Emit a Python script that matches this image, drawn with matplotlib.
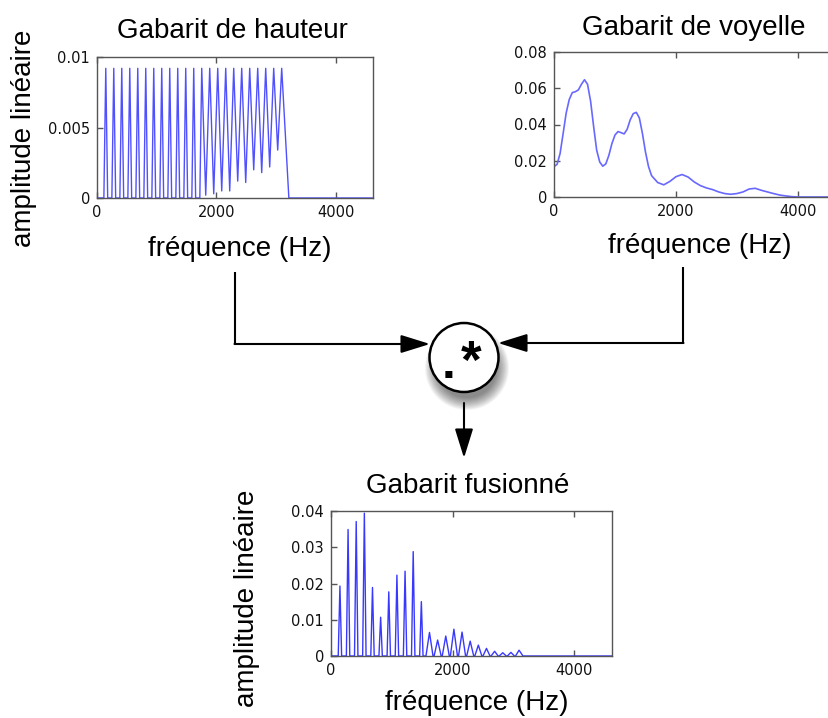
import matplotlib.pyplot as plt
from matplotlib.patches import Circle

W, H = 829, 718

# harmonic positions (Hz)
harm_freq = [147, 281, 415, 549, 683, 817, 951, 1085, 1219, 1353, 1487, 1621,
             1755, 1889, 2023, 2157, 2291, 2425, 2559, 2693, 2827, 2961, 3095]

# pitch template: peak heights and the level between two peaks
pitch_peak = [0.0092, 0.0092, 0.0092, 0.0092, 0.0092, 0.0092, 0.0092, 0.0092,
              0.0092, 0.0092, 0.0092, 0.0092, 0.0092, 0.0092, 0.0092, 0.0092,
              0.0092, 0.0092, 0.0092, 0.0092, 0.0092, 0.0092, 0.0092]
pitch_trough = [0, 0, 0, 0, 0, 0, 0, 0, 0, 0, 0, 0,
                0.0002, 0.0003, 0.0005, 0.0005, 0.0012, 0.0011, 0.0020, 0.0018,
                0.0022, 0.0034]

# vowel envelope
vowel_freq = [0, 50, 100, 150, 200, 250, 300, 350, 400, 450, 500, 550, 600, 650,
              700, 750, 800, 850, 900, 950, 1000, 1050, 1100, 1150, 1200, 1250,
              1300, 1350, 1400, 1450, 1500, 1550, 1600, 1700, 1800, 1900, 2000,
              2100, 2200, 2300, 2400, 2500, 2600, 2700, 2800, 2900, 3000, 3100,
              3200, 3300, 3400, 3500, 3600, 3700, 3800, 3900, 4000, 4300, 4625]
vowel_amp = [0.0168, 0.0180, 0.0240, 0.0351, 0.0464, 0.0538, 0.0576, 0.0581,
             0.0591, 0.0622, 0.0647, 0.0622, 0.0529, 0.0389, 0.0258, 0.0193,
             0.0170, 0.0183, 0.0230, 0.0295, 0.0342, 0.0361, 0.0355, 0.0348,
             0.0374, 0.0426, 0.0460, 0.0467, 0.0436, 0.0351, 0.0249, 0.0168,
             0.0118, 0.0080, 0.0067, 0.0086, 0.0112, 0.0124, 0.0110, 0.0083,
             0.0063, 0.0050, 0.0041, 0.0028, 0.0019, 0.0015, 0.0019, 0.0028,
             0.0044, 0.0048, 0.0037, 0.0028, 0.0019, 0.0011, 0.0006, 0.0002,
             0.0, 0.0, 0.0]

# fused template: peak heights at each harmonic
fused_peak = [0.0193, 0.0349, 0.0371, 0.0394, 0.0189, 0.0107, 0.0177, 0.0223,
              0.0234, 0.0288, 0.0150, 0.0065, 0.0044, 0.0055, 0.0074, 0.0066,
              0.0041, 0.0030, 0.0021, 0.0013, 0.0009, 0.0010, 0.0016]

XMAX = 4625


def comb(freqs, peaks, troughs, half_w, end_f):
    xs, ys = [0], [0]
    for k, f in enumerate(freqs):
        hw = half_w(f)
        if k == 0:
            xs.append(f - hw)
            ys.append(0)
        xs.append(f)
        ys.append(peaks[k])
        if k < len(freqs) - 1:
            t = troughs[k]
            nxt = freqs[k + 1]
            if t == 0:
                xs += [f + hw, nxt - half_w(nxt)]
                ys += [0, 0]
            else:
                xs.append((f + nxt) / 2)
                ys.append(t)
    xs += [end_f, XMAX]
    ys += [0, 0]
    return xs, ys


def box(l, t, r, b):
    return [l / W, 1 - b / H, (r - l) / W, (b - t) / H]


def style(ax, yticks, ylabels):
    ax.set_xlim(0, XMAX)
    ax.set_ylim(yticks[0], yticks[-1])
    ax.set_xticks([0, 2000, 4000])
    ax.set_xticklabels(['0', '2000', '4000'])
    ax.set_yticks(yticks)
    ax.set_yticklabels(ylabels)
    ax.tick_params(direction='in', length=4, width=1, color='#555555',
                   top=True, right=False, labelsize=10.5, pad=5,
                   labelcolor='#111111')
    for s in ax.spines.values():
        s.set_color('#555555')
        s.set_linewidth(1.0)


fig = plt.figure(figsize=(W / 100, H / 100), dpi=100)

ax1 = fig.add_axes(box(97, 57, 373, 198))
px, py = comb(harm_freq, pitch_peak, pitch_trough, lambda f: 32, 3215)
ax1.plot(px, py, color='#5050ff', lw=1.0)
style(ax1, [0, 0.005, 0.01], ['0', '0.005', '0.01'])

ax2 = fig.add_axes(box(554, 52, 836, 197))
ax2.plot(vowel_freq, vowel_amp, color='#6868ff', lw=1.2)
style(ax2, [0, 0.02, 0.04, 0.06, 0.08], ['0', '0.02', '0.04', '0.06', '0.08'])

ax3 = fig.add_axes(box(331, 511, 612, 656))
fx, fy = comb(harm_freq, fused_peak, [0] * 22,
              lambda f: 28 if f < 1550 else 58, 3160)
ax3.plot(fx, fy, color='#3838ff', lw=1.0)
style(ax3, [0, 0.01, 0.02, 0.03, 0.04], ['0', '0.01', '0.02', '0.03', '0.04'])

# overlay in pixel coordinates for labels, arrows and the operator circle
ov = fig.add_axes([0, 0, 1, 1])
ov.set_xlim(0, W)
ov.set_ylim(H, 0)
ov.axis('off')
ov.patch.set_visible(False)

lab = dict(family='Liberation Sans', fontsize=20, color='black')
ov.text(232, 38, 'Gabarit de hauteur', ha='center', va='baseline', **lab)
ov.text(694, 35, 'Gabarit de voyelle', ha='center', va='baseline', **lab)
ov.text(468, 493, 'Gabarit fusionné', ha='center', va='baseline', **lab)
ov.text(240, 256, 'fréquence (Hz)', ha='center', va='baseline', **lab)
ov.text(700, 253, 'fréquence (Hz)', ha='center', va='baseline', **lab)
ov.text(477, 710, 'fréquence (Hz)', ha='center', va='baseline', **lab)
ov.text(24, 138, 'amplitude linéaire', ha='center', va='center',
        rotation=90, **lab)
ov.text(247, 598, 'amplitude linéaire', ha='center', va='center',
        rotation=90, **lab)

arrow = dict(arrowstyle='-|>,head_length=0.9,head_width=0.28',
             color='black', lw=1.5, shrinkA=0, shrinkB=0, mutation_scale=20)
ov.plot([235, 235], [272, 344], color='black', lw=1.5, solid_capstyle='butt')
ov.annotate('', xy=(430, 344), xytext=(234.5, 344), arrowprops=arrow)
ov.plot([683, 683], [267, 343], color='black', lw=1.5, solid_capstyle='butt')
ov.annotate('', xy=(498, 343), xytext=(683.5, 343), arrowprops=arrow)
ov.annotate('', xy=(464, 458), xytext=(464, 403), arrowprops=arrow)

# soft shadow, mostly below the circle
for r in range(30, 43):
    ov.add_patch(Circle((467, 368), r, color='black', alpha=0.045, lw=0))
ov.add_patch(Circle((464, 357.5), 34.5, facecolor='white', edgecolor='black',
                    lw=1.8))
ov.text(449, 378, '.', ha='center', va='baseline', family='Liberation Sans',
        fontweight='bold', fontsize=36)
ov.text(471, 378, '*', ha='center', va='baseline', family='Liberation Sans',
        fontweight='bold', fontsize=38)

fig.savefig('out.png', dpi=100)
